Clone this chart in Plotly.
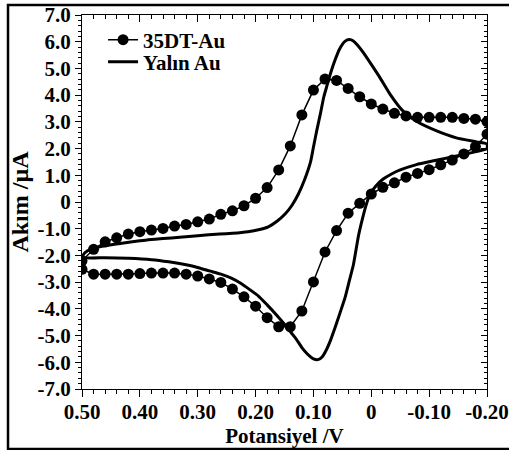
import plotly.graph_objects as go

# ---- data ----
dt_x = [0.50, 0.48, 0.46, 0.44, 0.42, 0.40, 0.38, 0.36, 0.34, 0.32, 0.30, 0.28, 0.26, 0.24, 0.22,
        0.20, 0.18, 0.16, 0.14, 0.12, 0.10, 0.08, 0.06, 0.04, 0.02, 0.00, -0.02, -0.04, -0.06,
        -0.08, -0.10, -0.12, -0.14, -0.16, -0.18, -0.20,
        -0.20, -0.18, -0.16, -0.14, -0.12, -0.10, -0.08, -0.06, -0.04, -0.02, 0.00, 0.02, 0.04,
        0.06, 0.08, 0.10, 0.12, 0.14, 0.16, 0.18, 0.20, 0.22, 0.24, 0.26, 0.28, 0.30, 0.32, 0.34,
        0.36, 0.38, 0.40, 0.42, 0.44, 0.46, 0.48, 0.50]
dt_y = [-2.52, -2.70, -2.70, -2.70, -2.70, -2.68, -2.66, -2.66, -2.66, -2.70, -2.77, -2.88, -3.01,
        -3.26, -3.55, -3.90, -4.33, -4.67, -4.67, -4.08, -2.99, -1.87, -1.07, -0.42, -0.05, 0.30,
        0.55, 0.72, 0.93, 1.07, 1.21, 1.39, 1.57, 1.80, 2.07, 2.54,
        3.01, 3.10, 3.13, 3.17, 3.17, 3.17, 3.17, 3.22, 3.32, 3.48, 3.67, 3.94, 4.25,
        4.55, 4.60, 4.19, 3.26, 2.10, 1.20, 0.54, 0.14, -0.14, -0.33, -0.46, -0.64, -0.74, -0.84,
        -0.90, -0.99, -1.05, -1.11, -1.20, -1.34, -1.49, -1.77, -2.20]

au_x = [0.50, 0.46, 0.42, 0.38, 0.35, 0.32, 0.30, 0.28, 0.26, 0.241, 0.225, 0.21, 0.195, 0.18,
        0.165, 0.153, 0.14, 0.13, 0.12, 0.11, 0.10, 0.092, 0.085, 0.078, 0.07, 0.063, 0.054,
        0.045, 0.038, 0.031, 0.022, 0.015, 0.008, 0.002, -0.008, -0.02, -0.035, -0.05, -0.078,
        -0.11, -0.136, -0.17, -0.20,
        -0.20, -0.182, -0.147, -0.113, -0.078, -0.055, -0.032, -0.016, 0.0, 0.014, 0.024, 0.031,
        0.038, 0.045, 0.055, 0.062, 0.07, 0.076, 0.082, 0.088, 0.094, 0.10, 0.105, 0.115, 0.126,
        0.137, 0.149, 0.163, 0.178, 0.195, 0.213, 0.24, 0.262, 0.30, 0.331, 0.36, 0.388, 0.41,
        0.434, 0.463, 0.486, 0.495, 0.50]
au_y = [-2.07, -2.09, -2.11, -2.16, -2.24, -2.35, -2.45, -2.58, -2.70, -2.86, -3.05, -3.28, -3.52,
        -3.85, -4.20, -4.50, -4.85, -5.12, -5.45, -5.70, -5.87, -5.90, -5.80, -5.55, -5.15, -4.73,
        -4.15, -3.55, -2.95, -2.36, -1.25, -0.60, -0.05, 0.30, 0.60, 0.85, 1.05, 1.20, 1.40,
        1.55, 1.67, 1.83, 2.00,
        2.17, 2.25, 2.40, 2.66, 3.02, 3.40, 4.05, 4.62, 5.15, 5.60, 5.88, 6.03,
        6.08, 6.02, 5.72, 5.35, 4.85, 4.40, 3.94, 3.30, 2.70, 2.05, 1.50, 0.85, 0.30,
        -0.12, -0.45, -0.72, -0.93, -1.04, -1.11, -1.17, -1.20, -1.26, -1.32, -1.37, -1.42, -1.48,
        -1.55, -1.65, -1.77, -1.90, -2.07]

x_ticks = [0.5, 0.4, 0.3, 0.2, 0.1, 0.0, -0.1, -0.2]
x_labels = ["0.50", "0.40", "0.30", "0.20", "0.10", "0", "-0.10", "-0.20"]
y_ticks = [7, 6, 5, 4, 3, 2, 1, 0, -1, -2, -3, -4, -5, -6, -7]
y_labels = ["7.0", "6.0", "5.0", "4.0", "3.0", "2.0", "1.0", "0",
            "-1.0", "-2.0", "-3.0", "-4.0", "-5.0", "-6.0", "-7.0"]

FONT = "Liberation Serif"

fig = go.Figure()
fig.add_trace(go.Scatter(x=au_x, y=au_y, mode="lines", name="Yalın Au",
                         line=dict(color="black", width=3, shape="spline", smoothing=0.5),
                         legend="legend2"))
fig.add_trace(go.Scatter(x=dt_x, y=dt_y, mode="lines+markers", name="35DT-Au",
                         line=dict(color="black", width=1.5),
                         marker=dict(color="black", size=11, symbol="circle"),
                         legend="legend"))
# helper trace so the mirrored (top/right) axes are drawn
fig.add_trace(go.Scatter(x=[None], y=[None], xaxis="x2", yaxis="y2", showlegend=False,
                         hoverinfo="skip"))

axis_common = dict(showgrid=False, zeroline=False, showline=True, linecolor="black",
                   linewidth=1, tickcolor="black", tickwidth=1, automargin=False)

legend_common = dict(xanchor="left", yanchor="middle", bgcolor="rgba(0,0,0,0)", borderwidth=0,
                     font=dict(family=FONT, size=21, weight="bold"), itemwidth=30)

fig.update_layout(
    width=509, height=450,
    margin=dict(l=82, r=22, t=15, b=61),
    paper_bgcolor="white", plot_bgcolor="white",
    font=dict(family=FONT, color="black"),
    xaxis=dict(range=[0.5, -0.2], tickmode="array", tickvals=x_ticks, ticktext=x_labels,
               ticks="outside", ticklen=7, ticklabeloverflow="allow", ticklabelstandoff=-3,
               minor=dict(dtick=0.02, tick0=0, ticks="outside", ticklen=4, tickcolor="black"),
               tickfont=dict(family=FONT, size=21, weight="bold"),
               title=dict(text="Potansiyel /V", font=dict(family=FONT, size=21, weight="bold"),
                          standoff=0),
               **axis_common),
    xaxis2=dict(range=[0.5, -0.2], overlaying="x", side="top", anchor="y",
                tickmode="array", tickvals=x_ticks, showticklabels=False,
                ticks="inside", ticklen=7,
                minor=dict(dtick=0.02, tick0=0, ticks="inside", ticklen=4, tickcolor="black"),
                **axis_common),
    yaxis=dict(range=[-7, 7], tickmode="array", tickvals=y_ticks, ticktext=y_labels,
               ticks="outside", ticklen=6, ticklabeloverflow="allow",
               minor=dict(dtick=0.2, tick0=0, ticks="outside", ticklen=3, tickcolor="black"),
               tickfont=dict(family=FONT, size=21, weight="bold"),
               title=dict(text="Akım /µA", font=dict(family=FONT, size=24, weight="bold"),
                          standoff=2),
               **axis_common),
    yaxis2=dict(range=[-7, 7], overlaying="y", side="right", anchor="x",
                tickmode="array", tickvals=y_ticks, showticklabels=False,
                ticks="inside", ticklen=6,
                minor=dict(dtick=0.2, tick0=0, ticks="inside", ticklen=3, tickcolor="black"),
                **axis_common),
    legend=dict(x=0.052, y=0.933, **legend_common),
    legend2=dict(x=0.052, y=0.874, **legend_common),
    shapes=[dict(type="rect", xref="paper", yref="paper",
                 x0=-0.1827, x1=1.06, y0=-0.1604, y1=1.0267,
                 line=dict(color="black", width=2.5), fillcolor="rgba(0,0,0,0)",
                 layer="above")],
    showlegend=True,
)

fig.write_html("out.html")
